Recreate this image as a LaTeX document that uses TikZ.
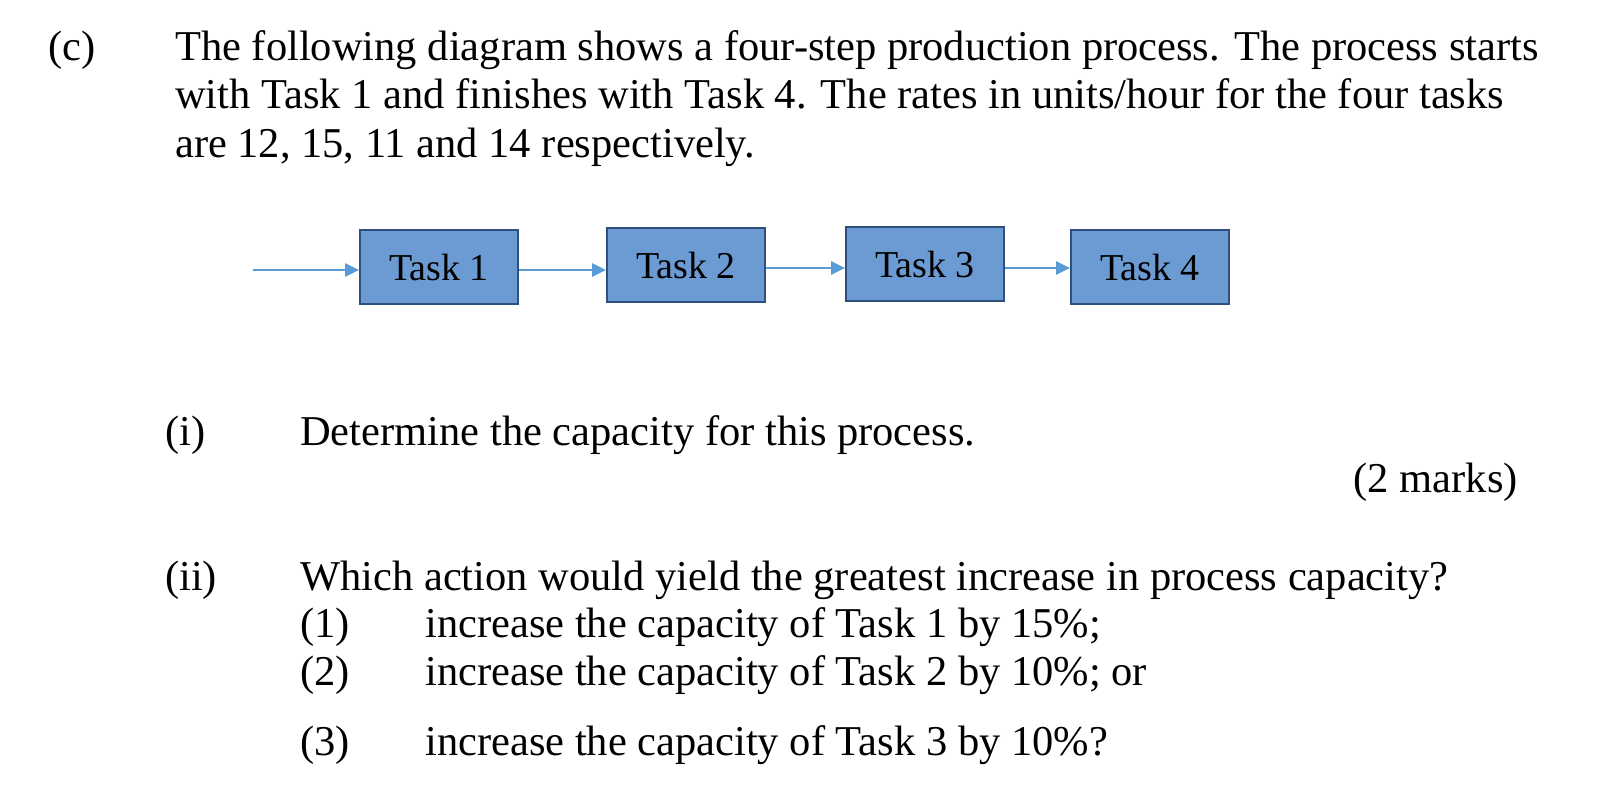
\documentclass[tikz,border=0pt]{standalone}
\usepackage{fontspec}
\setmainfont{Liberation Serif}
\usetikzlibrary{arrows.meta}
\begin{document}
\begin{tikzpicture}[x=1pt,y=-1pt,
  txt/.style={anchor=base west,inner sep=0pt,font=\fontsize{42.5}{48}\selectfont},
  task/.style={draw=taskline,line width=1.8pt,fill=taskfill,minimum width=158pt,minimum height=74pt,inner sep=0pt,font=\fontsize{38}{44}\selectfont},
  flow/.style={draw=arrowc,line width=2.4pt,-{Triangle[length=14pt,width=13pt]}}]
\definecolor{taskfill}{HTML}{6B9BD2}
\definecolor{taskline}{HTML}{2F4F7F}
\definecolor{arrowc}{HTML}{5B9BD5}
\useasboundingbox (0,0) rectangle (1600,784);
\node[txt] (c) at (48,60) {(c)};
\node[txt] (l1) at (175,60) {The following diagram shows a four-step production process. The process starts};
\node[txt] (l2) at (175,108) {with Task 1 and finishes with Task 4. The rates in units/hour for the four tasks};
\node[txt] (l3) at (175,157) {are 12, 15, 11 and 14 respectively.};
\node[task] (t1) at (439,267) {Task 1};
\node[task] (t2) at (686,265) {Task 2};
\node[task] (t3) at (925,264) {Task 3};
\node[task] (t4) at (1150,267) {Task 4};
\coordinate (s) at (253,270);
\draw[flow] (s) -- (t1.west|-s);
\draw[flow] (t1.east|-0,270) -- (t2.west|-0,270);
\draw[flow] (t2.east|-0,268) -- (t3.west|-0,268);
\draw[flow] (t3.east|-0,268) -- (t4.west|-0,268);
\node[txt] (i) at (165,445) {(i)};
\node[txt] (q1) at (300,445) {Determine the capacity for this process.};
\node[txt,anchor=base east] (m) at (1518,492) {(2 marks)};
\node[txt] (ii) at (165,590) {(ii)};
\node[txt] (q2) at (300,590) {Which action would yield the greatest increase in process capacity?};
\node[txt] (o1) at (300,637) {(1)};
\node[txt] (a1) at (425,637) {increase the capacity of Task 1 by 15\%;};
\node[txt] (o2) at (300,685) {(2)};
\node[txt] (a2) at (425,685) {increase the capacity of Task 2 by 10\%; or};
\node[txt] (o3) at (300,755) {(3)};
\node[txt] (a3) at (425,755) {increase the capacity of Task 3 by 10\%?};
\end{tikzpicture}
\end{document}
